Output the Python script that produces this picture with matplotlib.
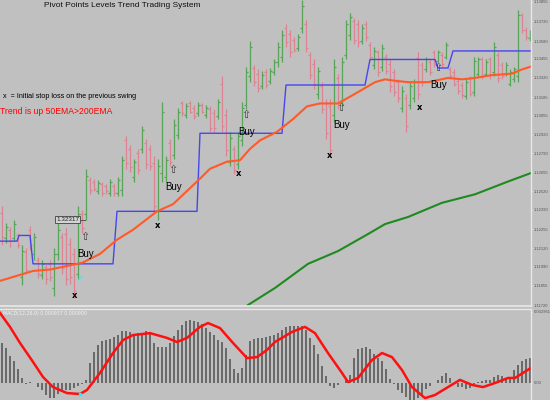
import matplotlib.pyplot as plt
import numpy as np

# price bars, pips above 1.1100
bar_high = [142, 130, 127, 132, 123, 114, 112, 128, 123, 106,
            104, 101, 104, 112, 130, 123, 126, 119, 112, 142,
            139, 168, 162, 161, 160, 159, 157, 161, 157, 162,
            177, 191, 185, 175, 182, 198, 189, 185, 177, 175,
            215, 177, 189, 203, 211, 216, 214, 216, 213, 215,
            214, 213, 212, 210, 217, 233, 210, 194, 184, 194,
            215, 240, 258, 241, 238, 237, 238, 239, 245, 257,
            266, 270, 266, 261, 263, 287, 273, 250, 245, 240,
            229, 217, 217, 245, 235, 247, 273, 278, 274, 273,
            270, 272, 257, 254, 252, 256, 249, 245, 238, 231,
            226, 221, 229, 231, 250, 243, 247, 245, 252, 252,
            250, 257, 240, 238, 232, 229, 231, 233, 247, 247,
            247, 245, 247, 257, 250, 243, 243, 238, 240, 280,
            278, 268, 266]
bar_low = [114, 116, 113, 117, 112, 86, 94, 111, 104, 91,
           90, 87, 89, 78, 104, 94, 86, 87, 77, 90,
           123, 132, 150, 152, 150, 149, 150, 149, 149, 149,
           149, 168, 166, 159, 164, 179, 168, 167, 136, 132,
           159, 159, 170, 175, 189, 205, 204, 207, 203, 205,
           207, 204, 194, 194, 203, 194, 177, 170, 164, 168,
           184, 210, 229, 226, 222, 224, 225, 228, 234, 240,
           243, 254, 247, 250, 251, 264, 250, 231, 224, 217,
           207, 189, 177, 201, 210, 212, 245, 259, 256, 254,
           256, 258, 245, 238, 233, 237, 235, 222, 219, 215,
           208, 194, 210, 215, 217, 226, 236, 234, 240, 243,
           240, 245, 231, 226, 221, 218, 217, 219, 219, 233,
           231, 233, 231, 233, 229, 231, 233, 226, 229, 229,
           264, 259, 258]
bar_open = [137, 119, 125, 119, 121, 92, 109, 125, 108, 104,
            93, 99, 101, 84, 108, 120, 122, 115, 108, 94,
            136, 136, 160, 159, 152, 157, 156, 151, 156, 151,
            153, 188, 182, 162, 179, 182, 186, 182, 172, 138,
            165, 162, 186, 178, 192, 214, 206, 214, 211, 207,
            213, 206, 210, 207, 205, 228, 206, 173, 182, 171,
            188, 213, 233, 239, 235, 226, 236, 230, 236, 243,
            247, 267, 263, 259, 253, 267, 270, 248, 242, 221,
            226, 214, 212, 206, 232, 216, 248, 262, 272, 270,
            258, 270, 255, 241, 250, 240, 247, 242, 236, 229,
            211, 218, 213, 218, 246, 241, 238, 243, 250, 244,
            248, 247, 238, 236, 230, 227, 219, 231, 222, 235,
            245, 235, 245, 236, 248, 241, 235, 228, 231, 233,
            276, 266, 260]
bar_close = [120, 127, 117, 129, 114, 110, 97, 114, 120, 94,
             101, 90, 92, 108, 125, 98, 90, 92, 82, 136,
             126, 163, 153, 154, 158, 151, 152, 159, 151, 160,
             174, 172, 169, 173, 167, 195, 171, 170, 142, 170,
             208, 174, 173, 199, 208, 207, 212, 208, 205, 213,
             208, 211, 197, 197, 215, 198, 181, 190, 167, 191,
             211, 236, 254, 229, 225, 234, 227, 237, 243, 254,
             262, 257, 250, 252, 261, 283, 253, 234, 228, 237,
             210, 193, 181, 240, 214, 243, 270, 275, 259, 257,
             267, 261, 247, 251, 236, 253, 237, 226, 222, 218,
             223, 198, 226, 229, 221, 229, 245, 236, 242, 250,
             242, 255, 233, 228, 223, 220, 229, 221, 244, 245,
             233, 243, 234, 254, 232, 233, 241, 236, 238, 276,
             266, 261, 265]

# indicator lines (bar index, pips)
ema50_x = [-0.5, 7.75, 12, 18.75, 20.25, 24.5, 28.75, 32.75, 38.75, 42.75,
           49.5, 52, 56.25, 59.5, 62, 64.5, 68.75, 72.75, 76.25, 79.5,
           84, 89, 93.25, 95.75, 98.25, 101.5, 106.5, 111.5, 115, 118.25,
           122.5, 127.5, 130, 132.25]
ema50_y = [89, 96, 97, 101, 102, 108, 118, 125, 138, 143,
           161, 168, 173, 174, 182, 188, 194, 203, 212, 214,
           214, 222, 229, 231, 230, 229, 229, 232, 231, 232,
           234, 235, 238, 240]
ema200_x = [61.5, 68.25, 76.5, 84, 91.5, 95.75, 101.5, 110, 118.25, 126.5, 132.25]
ema200_y = [72, 84, 101, 110, 122, 129, 134, 144, 150, 159, 165]
pivot_x = [-0.5, 3.75, 4.25, 7, 7.75, 27.75, 28.75, 48.75, 49.5, 70,
           71, 90.75, 92, 108.25, 109, 111.5, 112.75, 132.25]
pivot_y = [117, 117, 121, 121, 101, 101, 138, 138, 193, 193,
           227, 227, 245, 245, 239, 239, 251, 251]

# signals
buy_x = [20.75, 42.75, 61, 84.75, 109]
buy_level = [120, 167, 206, 211, 239]
stop_x = [18.25, 39, 59.25, 82, 104.5]
stop_level = [79, 128, 164.5, 177, 211]

price_labels = ["1.13855", "1.13720", "1.13580", "1.13455", "1.13320", "1.13185",
                "1.13055", "1.12920", "1.12790", "1.12655", "1.12520", "1.12390",
                "1.12255", "1.12120", "1.11990", "1.11855", "1.11720"]

# MACD, units of 1e-5
macd_hist = [167, 146, 113, 92, 58, 21, -4, 4, 0, -17,
             -29, -50, -63, -63, -46, -38, -29, -29, -21, -13,
             -4, 13, 83, 129, 158, 175, 179, 183, 192, 200,
             217, 217, 213, 204, 208, 208, 217, 213, 167, 150,
             150, 150, 167, 196, 221, 242, 259, 263, 259, 254,
             246, 229, 213, 200, 179, 171, 146, 100, 58, 42,
             63, 117, 175, 183, 188, 188, 192, 196, 200,
             208, 221, 234, 238, 238, 238, 238, 221, 188, 158,
             121, 71, 29, -13, -21, -8, 0, 13, 33, 104,
             142, 146, 150, 142, 121, 104, 92, 58, 17, -4,
             -29, -42, -58, -71, -71, -63, -50, -25, -13, 0,
             13, 29, 42, 21, -4, -17, -17, -25, -21, -4,
             4, 8, 13, 13, 25, 33, 29, 21, 25, 54,
             75, 92, 100, 104]
signal_x = [-0.5, 2, 4.5, 7.75, 10.25, 12.75, 16.25, 19.5, 21.25, 24.5,
            27.75, 30.25, 32.75, 37, 41.25, 43.75, 46.25, 49.5, 51.5, 54.5,
            57.75, 61.25, 63.75, 66.25, 68.25, 72.5, 75.75, 78.25, 81.5, 85,
            86.5, 89, 92.5, 95, 97.5, 100, 102.5, 105.75, 108.25, 111.5,
            114.5, 117.5, 120.25, 123.25, 126.5, 128.25, 132.25]
signal_y = [292, 234, 167, 88, 25, -17, -42, -46, -29, 42,
            125, 179, 200, 208, 188, 171, 188, 234, 250, 229,
            167, 104, 108, 138, 171, 213, 234, 208, 125, 42,
            4, 21, 96, 125, 108, 54, -17, -63, -50, -17,
            13, -8, -17, 0, 21, 21, 63]

bg = "#C0C0C0"
to_price = lambda v: 1.11 + np.asarray(v, dtype=float) / 1e4

fig = plt.figure(figsize=(5.5, 4), dpi=100, facecolor=bg)
ax = fig.add_axes([0, 1 - 306 / 400, 531 / 550, 306 / 400], facecolor=bg)
axm = fig.add_axes([0, 0, 531 / 550, 91 / 400], facecolor=bg)

n = len(bar_high)
x = np.arange(n)
hi, lo = to_price(bar_high), to_price(bar_low)
op, cl = to_price(bar_open), to_price(bar_close)
cols = np.where(cl >= op, "#58A458", "#DC8494")

ax.vlines(x, lo, hi, colors=cols, lw=0.9)
ax.hlines(op, x - 0.45, x, colors=cols, lw=0.9)
ax.hlines(cl, x, x + 0.45, colors=cols, lw=0.9)

ax.plot(ema200_x, to_price(ema200_y), color="#1F8A1F", lw=1.5)
ax.plot(pivot_x, to_price(pivot_y), color="#4646F0", lw=1.0)
ax.plot(ema50_x, to_price(ema50_y), color="#FF5A28", lw=1.5)

for bx, lv in zip(buy_x, buy_level):
    ax.text(bx, to_price(lv), "\u21e7", ha="center", va="center",
            fontsize=8, color="#3a3a3a")
    ax.text(bx + 0.2, to_price(lv - 12), "Buy", ha="center", va="center",
            fontsize=7, color="black", family="Liberation Sans")
for sx, lv in zip(stop_x, stop_level):
    ax.text(sx, to_price(lv), "x", ha="center", va="center", fontsize=6,
            fontweight="bold", color="black")

ax.text(16.4, to_price(132), "1.32317", ha="center", va="center", fontsize=4.6,
        color="#202020", family="Liberation Sans",
        bbox=dict(boxstyle="square,pad=0.15", fc="#D4D4D4", ec="#404040", lw=0.6))
ax.plot([19.8, 20.8], to_price([132, 132]), color="#404040", lw=0.6)
ax.text(19.5, to_price(91), "\u2713", ha="center", va="center", fontsize=6,
        color="#00FFFF")

ax.text(3 / 531, 1 - 96 / 306, "x  = Initial stop loss on the previous swing",
        transform=ax.transAxes, ha="left", va="center", fontsize=5.2,
        color="black", family="Liberation Sans")
ax.text(0.5 / 531, 1 - 111 / 306, "Trend is up 50EMA>200EMA",
        transform=ax.transAxes, ha="left", va="center", fontsize=6.2,
        color="#FF0000", family="Liberation Sans")
fig.text(122 / 550, 1 - 7 / 400, "Pivot Points Levels Trend Trading System",
         ha="center", va="baseline", fontsize=6, color="#111111",
         family="Liberation Sans")

ax.set_xlim(-0.5, 132.25)
ax.set_ylim(1.11713, 1.13869)
ax.set_xticks([])
ax.yaxis.tick_right()
ax.set_yticks([float(s) for s in price_labels], price_labels)
ax.tick_params(axis="y", labelsize=3.0, labelcolor="#555555", color="#E8E8E8",
               length=1, pad=0.8)
for t in ax.get_yticklabels():
    t.set_family("Liberation Sans")

# MACD panel
hv = np.asarray(macd_hist) * 1e-5
axm.bar(x, hv, width=0.42, color="#6A6A6A")
axm.plot(signal_x, np.asarray(signal_y) * 1e-5, color="#FF1010", lw=1.8)
axm.plot([19.5], [-0.00046], marker="o", ms=1.5, color="#00FFFF")
axm.text(3 / 531, 1 - 4 / 91, "MACD(12,26,9) 0.000937 0.000900",
         transform=axm.transAxes, ha="left", va="center", fontsize=3.4,
         color="#F2F2F2")
axm.set_xlim(-0.5, 132.25)
axm.set_ylim(-0.000709, 0.003086)
axm.set_xticks([])
axm.yaxis.tick_right()
axm.set_yticks([0.002961, 0.0], ["0.002961", "0.00"])
axm.tick_params(axis="y", labelsize=3.0, labelcolor="#555555", color="#E8E8E8",
                length=1, pad=0.8)
for t in axm.get_yticklabels():
    t.set_family("Liberation Sans")

for a in (ax, axm):
    for s in a.spines.values():
        s.set_visible(False)
    a.spines["right"].set_visible(True)
    a.spines["right"].set_color("#E8E8E8")
    a.spines["right"].set_linewidth(1.0)
ax.spines["bottom"].set_visible(True)
ax.spines["bottom"].set_color("#E8E8E8")
ax.spines["bottom"].set_linewidth(1.2)
axm.spines["top"].set_visible(True)
axm.spines["top"].set_color("#E8E8E8")
axm.spines["top"].set_linewidth(1.0)

fig.savefig("out.png", dpi=100, facecolor=bg)
